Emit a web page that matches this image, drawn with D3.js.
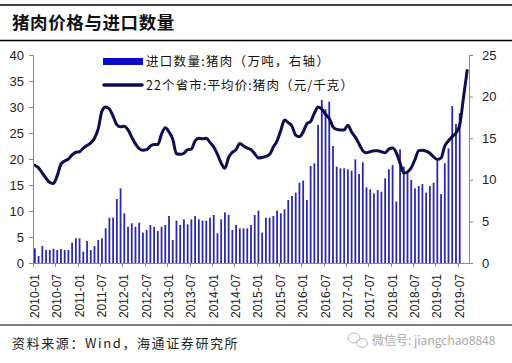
<!DOCTYPE html>
<html><head><meta charset="utf-8">
<script src="https://cdn.jsdelivr.net/npm/d3@7"></script>
<style>body{margin:0;background:#fff}svg{display:block}</style>
</head><body>
<script>
const tickLabels = ["2010-01","2010-07","2011-01","2011-07","2012-01","2012-07","2013-01","2013-07","2014-01","2014-07","2015-01","2015-07","2016-01","2016-07","2017-01","2017-07","2018-01","2018-07","2019-01","2019-07"];
const months = [];
for (let y = 2010; y <= 2019; y++) for (let m = 1; m <= 12; m++) {
  if (y === 2019 && m > 9) break;
  months.push(y + "-" + String(m).padStart(2, "0"));
}
// 22个省市:平均价:猪肉 (元/千克), left axis
const price = [18.8,18.3,17.3,16.3,15.5,15.3,16.8,19.0,19.6,20.0,20.8,21.3,
21.4,22.1,22.6,23.1,24.0,25.8,29.2,30.0,29.6,28.2,26.6,26.2,
26.3,25.6,24.2,22.9,22.0,21.7,21.8,22.5,22.8,22.8,24.8,26.0,
25.2,23.8,21.0,20.9,21.1,21.8,21.9,23.5,24.0,23.9,24.0,23.2,
22.3,20.9,19.2,18.2,20.3,21.3,21.8,23.0,22.5,22.1,21.8,21.0,
20.2,20.3,20.5,20.9,22.3,23.5,25.5,27.5,27.0,26.3,24.6,24.3,
25.2,26.8,27.2,28.8,30.0,29.6,28.6,27.8,26.2,25.7,25.6,25.6,
26.5,25.2,24.2,22.9,21.6,21.2,21.4,21.6,21.6,21.4,21.2,21.9,
22.1,21.2,19.2,17.3,17.5,18.3,19.9,21.6,21.7,21.5,21.1,20.4,
19.9,20.2,22.5,23.5,24.3,25.0,26.5,31.7,37.0];
// 进口数量:猪肉 (万吨), right axis
const imports = [1.77,0.84,2.04,1.56,1.56,1.72,1.56,1.68,1.56,1.56,2.44,2.96,
2.96,1.36,2.64,1.56,2.04,2.76,2.96,4.17,5.45,5.45,7.69,8.97,
5.97,4.36,4.77,4.36,4.85,3.65,3.97,4.57,4.36,3.85,4.36,4.57,
5.65,2.76,5.09,4.57,5.25,4.65,5.25,5.65,5.25,5.09,5.09,5.45,
5.77,3.57,5.25,6.09,5.77,3.97,4.57,4.17,4.17,4.17,4.57,5.77,
6.29,3.65,5.45,5.45,5.65,6.29,5.97,6.45,7.57,8.05,8.45,9.65,
9.9,7.57,11.66,11.98,16.6,19.6,18.5,19.4,14.06,11.58,11.38,11.38,
11.26,11.1,12.46,10.7,12.1,9.1,8.85,8.37,8.77,8.57,10.18,11.26,
11.78,7.37,13.66,11.58,10.86,9.98,8.97,9.25,9.5,8.45,9.25,9.65,
12.38,8.29,11.98,13.78,18.87,16.7,18.0];
const leftTicks = [0,5,10,15,20,25,30,35,40];
const rightTicks = [0,5,10,15,20,25];

const W = 512, H = 363;
const svg = d3.select("body").append("svg").attr("width", W).attr("height", H);
const font = "'Liberation Sans', Arial, sans-serif";
const cjk = "'Noto Sans CJK SC', sans-serif";

// frame lines
svg.append("line").attr("x1",0).attr("x2",W).attr("y1",5).attr("y2",5).attr("stroke","#000").attr("stroke-width",1.5);
svg.append("line").attr("x1",0).attr("x2",W).attr("y1",40.5).attr("y2",40.5).attr("stroke","#000").attr("stroke-width",1.5);
svg.append("line").attr("x1",0).attr("x2",W).attr("y1",325).attr("y2",325).attr("stroke","#000").attr("stroke-width",1.2);
svg.append("text").attr("x",12).attr("y",29).attr("font-family",cjk).attr("font-size",17.5).attr("font-weight",700).attr("letter-spacing",0.6).attr("fill","#111").text("猪肉价格与进口数量");
svg.append("text").attr("x",12).attr("y",348).attr("font-family",cjk).attr("font-size",13).attr("letter-spacing",1.6).attr("fill","#222").text("资料来源：Wind，海通证券研究所");
svg.append("text").attr("x",372).attr("y",345).attr("font-family",cjk).attr("font-size",12).attr("fill","#aaa").text("微信号: jiangchao8848");
// wechat-like icon
const ic = svg.append("g").attr("fill","none").attr("stroke","#bbb").attr("stroke-width",1);
ic.append("ellipse").attr("cx",354).attr("cy",338).attr("rx",6).attr("ry",5);
ic.append("ellipse").attr("cx",362).attr("cy",343).attr("rx",5.5).attr("ry",4.5);

const x0 = 33, x1 = 469, yTop = 55, yBot = 263;
const x = d3.scaleBand().domain(months).range([x0, x1]).paddingInner(0.52).paddingOuter(0.26);
const yL = d3.scaleLinear().domain([0, 40]).range([yBot, yTop]);
const yR = d3.scaleLinear().domain([0, 25]).range([yBot, yTop]);
const step = x.step();

// bars
svg.append("g").selectAll("rect").data(imports).join("rect")
  .attr("x", (d,i) => x(months[i]))
  .attr("width", x.bandwidth())
  .attr("y", d => yR(d))
  .attr("height", d => yBot - yR(d))
  .attr("fill", "#2a2aa6");

// line
const line = d3.line().x((d,i) => x(months[i]) + x.bandwidth()/2).y(d => yL(d)).curve(d3.curveMonotoneX);
svg.append("path").datum(price).attr("d", line).attr("fill","none").attr("stroke","#0d0d4f").attr("stroke-width",3).attr("stroke-linejoin","round").attr("stroke-linecap","round");

// axes
const axisColor = "#8a8a8a";
const gL = svg.append("g").attr("transform",`translate(${x0},0)`).call(d3.axisLeft(yL).tickValues(leftTicks).tickSize(4).tickPadding(5));
const gR = svg.append("g").attr("transform",`translate(${x1},0)`).call(d3.axisRight(yR).tickValues(rightTicks).tickSize(4).tickPadding(9));
[gL,gR].forEach(g => {
  g.select(".domain").attr("stroke",axisColor);
  g.selectAll(".tick line").attr("stroke",axisColor);
  g.selectAll("text").attr("font-family",font).attr("font-size",13).attr("fill","#222");
});
// bottom axis
const gB = svg.append("g");
gB.append("line").attr("x1",x0).attr("x2",x1).attr("y1",yBot+0.5).attr("y2",yBot+0.5).attr("stroke",axisColor);
tickLabels.forEach(lab => {
  const i = months.indexOf(lab);
  const bx = Math.round(x0 + i*step) + 0.5;
  gB.append("line").attr("x1",bx).attr("x2",bx).attr("y1",yBot).attr("y2",yBot+4).attr("stroke",axisColor);
  const cx = x(lab) + x.bandwidth()/2 + 4;
  gB.append("text").attr("transform",`translate(${cx},274) rotate(-90)`).attr("text-anchor","end")
    .attr("font-family",font).attr("font-size",12).attr("fill","#222").text(lab);
});

// legend
svg.append("rect").attr("x",103).attr("y",58).attr("width",40).attr("height",7).attr("fill","#0a0acc");
svg.append("text").attr("x",146).attr("y",65.5).attr("font-family",cjk).attr("font-size",12.5).attr("letter-spacing",1.3).attr("fill","#111").text("进口数量:猪肉（万吨，右轴）");
svg.append("line").attr("x1",104).attr("x2",142).attr("y1",85).attr("y2",85).attr("stroke","#0d0d4f").attr("stroke-width",3.5).attr("stroke-linecap","round");
svg.append("text").attr("x",146).attr("y",89.5).attr("font-family",cjk).attr("font-size",12.5).attr("letter-spacing",1.1).attr("fill","#111").text("22个省市:平均价:猪肉（元/千克）");
</script>
</body></html>
